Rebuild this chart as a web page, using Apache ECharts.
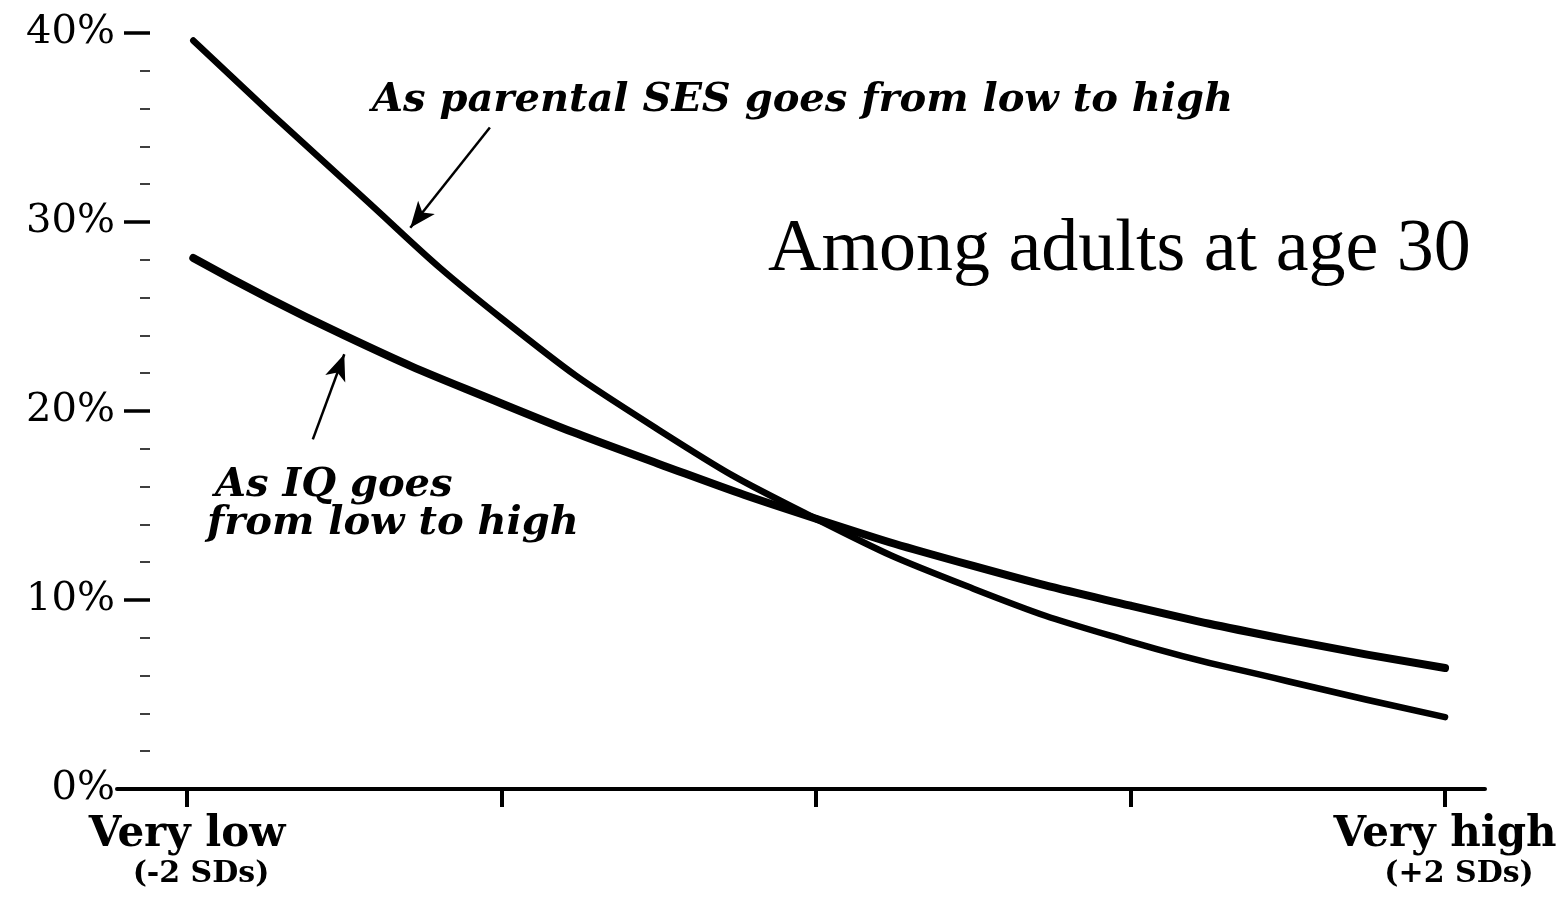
<!DOCTYPE html>
<html>
<head>
<meta charset="utf-8">
<script src="https://cdn.jsdelivr.net/npm/echarts@6/dist/echarts.min.js"></script>
<style>html,body{margin:0;padding:0;background:#fff;}#c{width:1562px;height:902px;}</style>
</head>
<body>
<div id="c"></div>
<script>
// Position on the trait scale (SDs from the mean)
const xs = [-1.98, -1.5, -1, -0.5, 0, 0.5, 1, 1.5, 2];
// Percent (poverty rate) among adults at age 30
const sesValues = [39.6, 32.2, 24.9, 19.0, 14.3, 10.6, 7.8, 5.7, 3.8];
const iqValues  = [28.1, 24.0, 20.4, 17.2, 14.3, 11.8, 9.7, 7.9, 6.4];
const yTicks = [0, 10, 20, 30, 40];
const xTickValues = [-2, -1, 0, 1, 2];
const xLabelValues = [-2, 2];
const xLabelText = {"-2": ["Very low", "(-2 SDs)"], "2": ["Very high", "(+2 SDs)"]};
// arrow annotations in data space: [tailX, tailY, headX, headY]
const sesArrow = [-1.037, 35.0, -1.29, 29.7];
const iqArrow = [-1.60, 18.5, -1.50, 23.0];

const chart = echarts.init(document.getElementById('c'));
const serif = 'DejaVu Serif';

chart.setOption({
  animation: false,
  backgroundColor: '#fff',
  grid: {left: 117, right: 77, top: 33, bottom: 113, containLabel: false},
  xAxis: {
    type: 'value',
    min: -2.2226,
    max: 2.127,
    axisLine: {show: true, onZero: false, lineStyle: {color: '#000', width: 4}},
    axisTick: {show: true, customValues: xTickValues, length: 18, lineStyle: {color: '#000', width: 4}},
    axisLabel: {
      show: true,
      customValues: xLabelValues,
      margin: 24,
      formatter: function (v) {
        const t = xLabelText[String(Math.round(v))];
        return t ? '{a|' + t[0] + '}\n{b|' + t[1] + '}' : '';
      },
      rich: {
        a: {fontFamily: serif, fontWeight: 'bold', fontSize: 42, lineHeight: 44, color: '#000'},
        b: {fontFamily: serif, fontWeight: 'bold', fontSize: 30, lineHeight: 34, color: '#000', padding: [0, 0, 0, 28]}
      }
    },
    splitLine: {show: false}
  },
  yAxis: {
    type: 'value',
    min: 0,
    max: 40,
    interval: 10,
    offset: -33,
    axisLine: {show: false, onZero: false},
    axisTick: {show: true, length: 26, lineStyle: {color: '#000', width: 3.5}},
    minorTick: {show: true, splitNumber: 5, length: 10, lineStyle: {color: '#000', width: 1.5}},
    axisLabel: {
      margin: 35,
      fontFamily: serif,
      fontSize: 40,
      color: '#000',
      formatter: function (v) { return yTicks.indexOf(v) >= 0 ? v + '%' : ''; }
    },
    splitLine: {show: false},
    minorSplitLine: {show: false}
  },
  series: [
    {
      name: 'Parental SES',
      type: 'line',
      smooth: 0.5,
      showSymbol: false,
      data: xs.map((x, i) => [x, sesValues[i]]),
      lineStyle: {color: '#000', width: 6.5, cap: 'round'},
      markLine: {
        silent: true,
        symbol: ['none', 'arrow'],
        symbolSize: [16, 26],
        label: {show: false},
        lineStyle: {color: '#000', width: 2.5, type: 'solid'},
        data: [[{coord: [sesArrow[0], sesArrow[1]]}, {coord: [sesArrow[2], sesArrow[3]]}]]
      }
    },
    {
      name: 'IQ',
      type: 'line',
      smooth: 0.5,
      showSymbol: false,
      data: xs.map((x, i) => [x, iqValues[i]]),
      lineStyle: {color: '#000', width: 8, cap: 'round'},
      markLine: {
        silent: true,
        symbol: ['none', 'arrow'],
        symbolSize: [16, 26],
        label: {show: false},
        lineStyle: {color: '#000', width: 2.5, type: 'solid'},
        data: [[{coord: [iqArrow[0], iqArrow[1]]}, {coord: [iqArrow[2], iqArrow[3]]}]]
      }
    }
  ],
  graphic: [
    {type: 'text', left: 372, top: 81, style: {text: 'As parental SES goes from low to high', fontFamily: serif, fontStyle: 'italic', fontWeight: 'bold', fontSize: 40, fill: '#000'}},
    {type: 'text', left: 215, top: 466, style: {text: 'As IQ goes', fontFamily: serif, fontStyle: 'italic', fontWeight: 'bold', fontSize: 40, fill: '#000'}},
    {type: 'text', left: 207, top: 504, style: {text: 'from low to high', fontFamily: serif, fontStyle: 'italic', fontWeight: 'bold', fontSize: 40, fill: '#000'}},
    {type: 'text', left: 768, top: 214, style: {text: 'Among adults at age 30', fontFamily: 'Liberation Serif', fontSize: 74, fill: '#000'}}
  ]
});
</script>
</body>
</html>
